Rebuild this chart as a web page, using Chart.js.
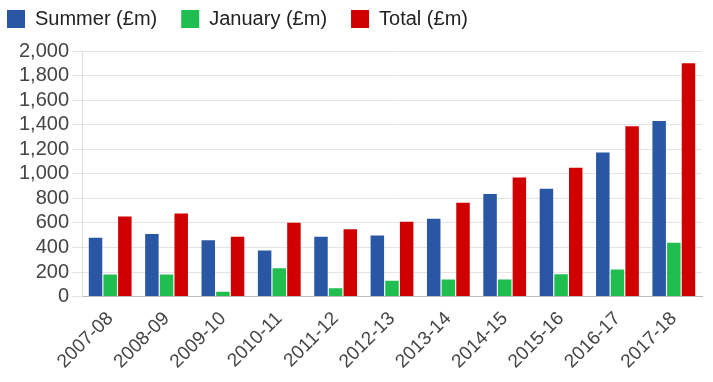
<!DOCTYPE html>
<html>
<head>
<meta charset="utf-8">
<script src="https://cdn.jsdelivr.net/npm/chart.js@4"></script>
<style>
html,body{margin:0;padding:0;background:#fff;}
#wrap{position:relative;width:713px;height:382px;}
</style>
</head>
<body>
<div id="wrap"><canvas id="c" width="713" height="382"></canvas></div>
<script>
const categories = ["2007-08","2008-09","2009-10","2010-11","2011-12","2012-13","2013-14","2014-15","2015-16","2016-17","2017-18"];
const summer = [480, 510, 458, 375, 487, 498, 634, 835, 879, 1173, 1429];
const january = [180, 180, 40, 231, 68, 128, 139, 139, 182, 220, 438];
const total = [652, 677, 487, 601, 549, 610, 765, 969, 1050, 1388, 1900];
const seriesNames = ["Summer (£m)", "January (£m)", "Total (£m)"];
const yTicks = [0, 200, 400, 600, 800, 1000, 1200, 1400, 1600, 1800, 2000];

const font = "'Liberation Sans', Arial, sans-serif";
Chart.defaults.font.family = font;
Chart.defaults.color = '#444';

const legendHeightPatch = {
  id: 'legendHeightPatch',
  beforeLayout(chart) {
    const lg = chart.legend;
    if (lg && !lg._patched) {
      const f = lg.fit.bind(lg);
      lg.fit = function () { f(); this.height += 12; };
      lg._patched = true;
    }
  }
};

new Chart(document.getElementById('c'), {
  type: 'bar',
  data: {
    labels: categories,
    datasets: [
      {label: seriesNames[0], data: summer, backgroundColor: '#2957a4'},
      {label: seriesNames[1], data: january, backgroundColor: '#1fbe4f'},
      {label: seriesNames[2], data: total, backgroundColor: '#d10000'}
    ]
  },
  plugins: [legendHeightPatch],
  options: {
    responsive: false,
    animation: false,
    layout: {padding: {left: -17, right: 11, top: -15, bottom: 6}},
    datasets: {bar: {categoryPercentage: 0.78, barPercentage: 0.92}},
    plugins: {
      legend: {
        position: 'top',
        align: 'start',
        labels: {boxWidth: 18, boxHeight: 18, padding: 24, color: '#222', font: {size: 20}}
      },
      tooltip: {enabled: false}
    },
    scales: {
      x: {
        grid: {display: false},
        border: {display: true, color: '#bbbbbb'},
        ticks: {maxRotation: 45, minRotation: 45, font: {size: 19}, color: '#444', padding: 3}
      },
      y: {
        min: 0, max: 2000,
        afterBuildTicks: (s) => { s.ticks = yTicks.map(v => ({value: v})); },
        afterFit: (s) => { s.width = 99; },
        grid: {color: '#e4e4e4', tickLength: 10},
        border: {display: true, color: '#dddddd'},
        ticks: {font: {size: 20}, color: '#444', padding: 3, autoSkip: false,
          callback: (v) => v.toLocaleString('en-GB')}
      }
    }
  }
});
</script>
</body>
</html>
